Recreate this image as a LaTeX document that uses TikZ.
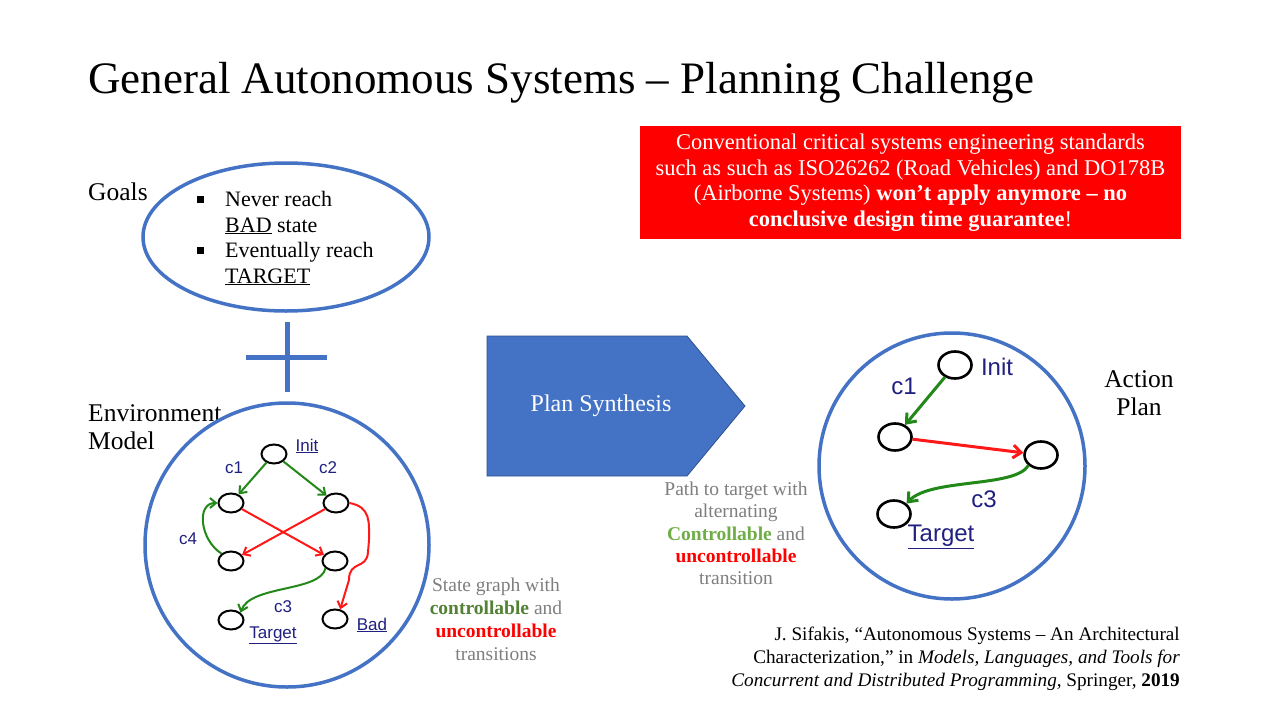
\documentclass[tikz,border=0pt]{standalone}
\usepackage{fontspec}
\setmainfont{Liberation Serif}
\newfontfamily\graphfont{Liberation Sans}
\usetikzlibrary{shapes.geometric,arrows.meta}

\definecolor{slideblue}{HTML}{4472C4}
\definecolor{slideborder}{HTML}{2F528F}
\definecolor{boxred}{HTML}{FF0000}
\definecolor{edgegreen}{RGB}{34,136,24}
\definecolor{edgered}{RGB}{255,24,24}
\definecolor{labelnavy}{RGB}{32,32,128}
\definecolor{notegray}{HTML}{7F7F7F}
\definecolor{ctrlgreen}{HTML}{538135}
\definecolor{ctrllight}{HTML}{70AD47}

\newcommand\fsz[2]{\fontsize{#1}{#2}\selectfont}

\tikzset{
  bigring/.style={circle, draw=slideblue, line width=3.5pt, inner sep=0pt},
  envstate/.style={ellipse, draw=black, line width=2pt, minimum width=25pt, minimum height=19pt, inner sep=0pt},
  planstate/.style={ellipse, draw=black, line width=2.6pt, minimum width=33pt, minimum height=27pt, inner sep=0pt},
  envlbl/.style={text=labelnavy, font=\graphfont\fsz{17}{20}, inner sep=0pt},
  planlbl/.style={text=labelnavy, font=\graphfont\fsz{24}{28}, inner sep=0pt},
  ctl/.style={draw=edgegreen, line width=2pt, -{Straight Barb[length=6pt,width=10pt,line width=2pt]}},
  unctl/.style={draw=edgered, line width=2pt, -{Straight Barb[length=6pt,width=10pt,line width=2pt]}},
  pctl/.style={draw=edgegreen, line width=3pt, -{Straight Barb[length=8pt,width=13pt,line width=3pt]}},
  punctl/.style={draw=edgered, line width=3pt, -{Straight Barb[length=8pt,width=13pt,line width=3pt]}},
  heading/.style={font=\fsz{25.5}{28}, inner sep=0pt},
  goaltext/.style={font=\fsz{22}{25}, inner sep=0pt, anchor=base west},
  note/.style={font=\fsz{19.5}{23}, text=notegray, align=center, inner sep=0pt},
}

\begin{document}
\begin{tikzpicture}[x=1pt, y=-1pt]
\useasboundingbox[fill=white] (0,0) rectangle (1280,720);

% title
\node[anchor=base west, font=\fsz{45}{50}, inner sep=0pt] (title) at (88,93)
  {General Autonomous Systems – Planning Challenge};

% goals
\node[heading, anchor=base west] (goals) at (88,200) {Goals};
\node[ellipse, draw=slideblue, line width=3.5pt, minimum width=286pt, minimum height=148pt, inner sep=0pt] (goalring) at (286,237) {};
\fill (197,196) rectangle (204,203);
\fill (197,247) rectangle (204,254);
\node[goaltext] (g1) at (225,206) {Never reach};
\node[goaltext] (g2) at (225,232) {\underline{BAD} state};
\node[goaltext] (g3) at (225,257) {Eventually reach};
\node[goaltext] (g4) at (225,283) {\underline{TARGET}};

% plus sign between goals and model
\draw[slideblue, line width=5pt] (287,322) -- (287,392);
\draw[slideblue, line width=5pt] (246,357) -- (327,357);

% environment model
\node[heading, anchor=base west] (env1) at (88,421) {Environment};
\node[heading, anchor=base west] (env2) at (88,449) {Model};
\node[bigring, minimum size=284pt] (envring) at (287,545) {};

\node[envstate] (einit) at (274,454) {};
\node[envstate] (ea) at (231,503) {};
\node[envstate] (eb) at (336,503) {};
\node[envstate] (ec) at (231,561) {};
\node[envstate] (ed) at (335,561) {};
\node[envstate] (etgt) at (231,620) {};
\node[envstate] (ebad) at (335,619) {};

\node[envlbl] (linit) at (307,446) {\underline{Init}};
\node[envlbl] (lc1) at (234,468) {c1};
\node[envlbl] (lc2) at (328,468) {c2};
\node[envlbl] (lc4) at (188,539) {c4};
\node[envlbl] (lc3) at (283,607) {c3};
\node[envlbl] (ltgt) at (273,635) {\underline{Target}};
\node[envlbl] (lbad) at (372,625) {\underline{Bad}};

\draw[ctl] (einit) -- (ea);
\draw[ctl] (einit) -- (eb);
\draw[unctl] (ea) -- (ed);
\draw[unctl] (eb) -- (ec);
\draw[ctl] (ec.north west) .. controls (200,540) and (196,503) .. (ea.west);
\draw[ctl] (ed.south west) .. controls (320,592) and (250,585) .. (etgt.north east);
\draw[unctl] (eb.east) .. controls (371,507) and (369,522) .. (369,540)
  -- (368,552) .. controls (367,570) and (349,560) .. (349,580) -- (ebad.62);

% synthesis arrow
\draw[fill=slideblue, draw=slideborder, line width=0.8pt]
  (487,336) -- (687,336) -- (745,406) -- (687,476) -- (487,476) -- cycle;
\node[text=white, font=\fsz{24}{28}, inner sep=0pt] (synth) at (601,406) {Plan Synthesis};

% warning box
\node[fill=boxred, text=white, align=center, minimum width=541pt, minimum height=113pt,
      inner sep=0pt, font=\fsz{22.5}{25.5}] (warn) at (910.5,182.5)
  {Conventional critical systems engineering standards\\
   such as such as ISO26262 (Road Vehicles) and DO178B\\
   (Airborne Systems) \textbf{won’t apply anymore – no}\\
   \textbf{conclusive design time guarantee}!};

% action plan
\node[bigring, minimum size=266pt] (planring) at (952,466) {};
\node[heading, align=center] (aplan) at (1139,393) {Action\\Plan};

\node[planstate] (pinit) at (955,365) {};
\node[planstate] (pa) at (895,437) {};
\node[planstate] (pb) at (1041,455) {};
\node[planstate] (ptgt) at (894,514) {};

\node[planlbl] (plinit) at (997,367) {Init};
\node[planlbl] (plc1) at (904,386) {c1};
\node[planlbl] (plc3) at (984,499) {c3};
\node[planlbl] (pltgt) at (941,537) {\underline{Target}};

\draw[pctl] (pinit) -- (pa);
\draw[punctl] (pa) -- (pb);
\draw[pctl] (pb.south west) .. controls (1015,488) and (930,478) .. (ptgt.north east);

% notes
\node[note] (note1) at (496,619.5)
  {State graph with\\
   \textcolor{ctrlgreen}{\textbf{controllable}} and\\
   \textcolor{boxred}{\textbf{uncontrollable}}\\
   transitions};
\node[note, font=\fsz{19.5}{22.3}] (note2) at (736,533.5)
  {Path to target with\\
   alternating\\
   \textcolor{ctrllight}{\textbf{Controllable}} and\\
   \textcolor{boxred}{\textbf{uncontrollable}}\\
   transition};

% reference
\node[anchor=east, align=right, inner sep=0pt, font=\fsz{19.2}{23}] (cite) at (1180,659)
  {J. Sifakis, “Autonomous Systems – An Architectural\\
   Characterization,” in \textit{Models, Languages, and Tools for}\\
   \textit{Concurrent and Distributed Programming}, Springer, \textbf{2019}};
\end{tikzpicture}
\end{document}
